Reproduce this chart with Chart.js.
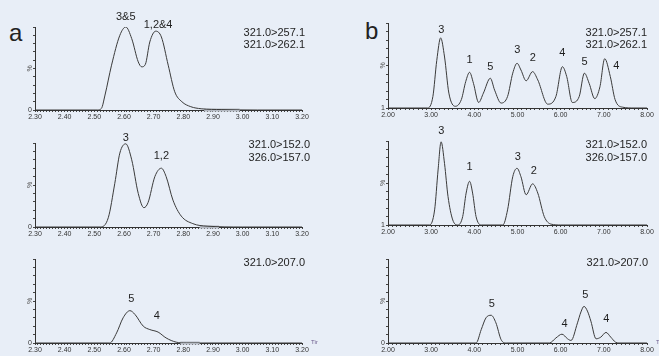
<!DOCTYPE html>
<html>
<head>
<meta charset="utf-8">
<script src="https://cdn.jsdelivr.net/npm/chart.js@4.4.1/dist/chart.umd.min.js"></script>
<style>
html, body { margin: 0; padding: 0; }
body { width: 659px; height: 356px; overflow: hidden; position: relative; background: #e8eef7;
       font-family: "Liberation Sans", Arial, sans-serif; }
canvas { position: absolute; }
.tag { position: absolute; font-size: 24px; line-height: 24px; color: #222; }
</style>
</head>
<body>
<div class="tag" style="left:9px;top:21px">a</div>
<div class="tag" style="left:365px;top:19px">b</div>
<canvas id="a1"></canvas>
<canvas id="a2"></canvas>
<canvas id="a3"></canvas>
<canvas id="b1"></canvas>
<canvas id="b2"></canvas>
<canvas id="b3"></canvas>
<script>
// time axes (min)
const aRange = [2.30, 3.20];
const bRange = [2.00, 8.00];
const aLabels = ['2.30', '2.40', '2.50', '2.60', '2.70', '2.80', '2.90', '3.00', '3.10', '3.20'];
const bLabels = ['2.00', '3.00', '4.00', '5.00', '6.00', '7.00', '8.00'];

// panel a, 321.0>257.1 / 321.0>262.1
const a1Time = [2.30, 2.51, 2.524, 2.536, 2.558, 2.586, 2.606, 2.626, 2.648, 2.660, 2.672, 2.687, 2.707, 2.726, 2.749, 2.771, 2.795, 2.825, 2.86, 2.93, 3.05, 3.20];
const a1Resp = [0, 0, 2, 18, 54, 90, 100, 86, 58, 52, 55, 82, 95, 88, 54, 22, 10, 4, 1.5, 0.5, 0, 0];
// panel a, 321.0>152.0 / 326.0>157.0
const a2Time = [2.30, 2.52, 2.547, 2.569, 2.586, 2.606, 2.626, 2.648, 2.667, 2.681, 2.704, 2.726, 2.742, 2.765, 2.793, 2.832, 2.88, 3.00, 3.20];
const a2Resp = [0, 0, 11, 52, 88, 99, 80, 40, 23, 29, 60, 70, 60, 32, 13, 4, 1, 0, 0];
// panel a, 321.0>207.0
const a3Time = [2.30, 2.552, 2.575, 2.597, 2.62, 2.637, 2.665, 2.687, 2.715, 2.742, 2.776, 2.81, 3.20];
const a3Resp = [0, 0, 12, 30, 38.5, 34, 20, 16, 13, 6, 1, 0, 0];

// panel b, same transitions
const b1Time = [2.00, 2.92, 3.04, 3.13, 3.22, 3.31, 3.41, 3.56, 3.70, 3.80, 3.89, 3.98, 4.10, 4.21, 4.37, 4.47, 4.62, 4.77, 4.89, 4.99, 5.08, 5.20, 5.35, 5.47, 5.70, 5.89, 6.04, 6.14, 6.27, 6.43, 6.55, 6.66, 6.79, 6.91, 7.02, 7.15, 7.26, 7.43, 7.70, 8.00];
const b1Resp = [0, 0, 13.6, 56, 82.5, 60, 17.5, 2, 10, 31, 42, 29, 6.5, 17.5, 35, 21, 5.8, 13.6, 41, 52.6, 44.7, 32, 42.8, 33, 4.5, 13.6, 48.6, 37, 6.5, 13.6, 41, 29, 11, 25, 58, 37, 10, 1, 0, 0];
const b2Time = [2.00, 2.96, 3.08, 3.16, 3.23, 3.31, 3.39, 3.50, 3.62, 3.73, 3.81, 3.89, 3.96, 4.04, 4.16, 4.66, 4.77, 4.89, 4.99, 5.08, 5.20, 5.35, 5.47, 5.62, 5.78, 6.00, 8.00];
const b2Resp = [0, 0, 18, 65.5, 99, 73, 34, 6, 0, 10, 38, 52, 38, 10, 0, 0, 18, 57.5, 67.5, 57.5, 36, 49, 38, 10, 1, 0, 0];
const b3Time = [2.00, 4.04, 4.16, 4.27, 4.39, 4.50, 4.62, 4.74, 5.74, 5.89, 6.03, 6.16, 6.24, 6.39, 6.47, 6.54, 6.62, 6.70, 6.82, 6.93, 7.05, 7.16, 7.27, 7.35, 8.00];
const b3Resp = [0, 0, 16, 30, 33, 24, 4, 0, 0, 6, 10.5, 5, 3, 24, 37, 43.6, 38, 26, 5, 7, 12.6, 7, 1, 0, 0];

// integration baseline segments (start, end)
const a1Band = [2.87, 2.99];
const a2Band = [2.855, 2.92];
const a3Band = [2.79, 2.855];

// peak assignments
const a1Peaks = ['3&5', '1,2&4'];
const a1PeakTime = [2.606, 2.715];
const a2Peaks = ['3', '1,2'];
const a2PeakTime = [2.606, 2.726];
const a3Peaks = ['5', '4'];
const a3PeakTime = [2.625, 2.711];
const b1Peaks = ['3', '1', '5', '3', '2', '4', '5', '4'];
const b1PeakTime = [3.236, 3.891, 4.370, 4.995, 5.356, 6.037, 6.553, 7.287];
const b2Peaks = ['3', '1', '3', '2'];
const b2PeakTime = [3.236, 3.891, 5.009, 5.38];
const b3Peaks = ['5', '4', '5', '4'];
const b3PeakTime = [4.407, 6.09, 6.569, 7.056];

const tickFont = { family: '"Liberation Sans", Arial, sans-serif', size: 7 };
const ink = '#333';

function notesPlugin(p) {
  return {
    id: 'notes',
    afterDatasetsDraw(chart) {
      const { ctx, chartArea: area, scales: { x, y } } = chart;
      ctx.save();
      ctx.fillStyle = '#1e1e1e';
      ctx.font = '11px "Liberation Sans", Arial, sans-serif';
      ctx.textBaseline = 'middle';
      ctx.textAlign = 'center';
      p.peaks.forEach((name, i) => {
        ctx.fillText(name, x.getPixelForValue(p.peakTime[i]), y.getPixelForValue(p.labelAt[i]));
      });
      ctx.textAlign = 'right';
      p.mrm.forEach((s, i) => ctx.fillText(s, area.right + p.mrmDx, area.top + p.mrmDy[i]));
      if (p.time) {
        ctx.font = '6px "Liberation Sans", Arial, sans-serif';
        ctx.fillStyle = '#6b5b8c';
        ctx.textAlign = 'left';
        ctx.textBaseline = 'bottom';
        ctx.fillText('Time', area.right + 9, area.bottom + 2);
      }
      ctx.restore();
    }
  };
}

function drawTrace(id, box, range, labels, step, times, resp, band, base, p) {
  const cv = document.getElementById(id);
  const W = box.r - box.l + 26 + 16;
  const H = box.b - box.t + 24 + 14;
  cv.style.left = (box.l - 26) + 'px';
  cv.style.top = (box.t - 24) + 'px';
  cv.width = W; cv.height = H;
  cv.style.width = W + 'px'; cv.style.height = H + 'px';
  const sets = [{
    data: times.map((t, i) => ({ x: t, y: resp[i] })),
    borderColor: '#3a3a3a',
    borderWidth: 1,
    pointRadius: 0,
    cubicInterpolationMode: 'monotone',
    fill: false,
    order: 1
  }];
  if (band) {
    sets.push({
      data: band.map(t => ({ x: t, y: 0 })),
      borderColor: '#b4b9c2',
      borderWidth: 3,
      pointRadius: 0,
      clip: false,
      fill: false,
      order: 2
    });
  }
  new Chart(cv, {
    type: 'line',
    data: { datasets: sets },
    options: {
      responsive: false,
      animation: false,
      layout: { padding: { left: 17, top: 24, right: 16, bottom: 0 } },
      plugins: { legend: { display: false }, tooltip: { enabled: false } },
      scales: {
        x: {
          type: 'linear', min: range[0], max: range[1],
          afterFit: s => { s.height = 14; s.paddingLeft = 0; s.paddingRight = 0; },
          border: { display: true, color: ink, width: 1 },
          grid: { drawOnChartArea: false, tickLength: 2, tickColor: '#444', tickWidth: 1 },
          ticks: {
            stepSize: step, autoSkip: false, maxRotation: 0, minRotation: 0, padding: 1,
            color: ink, font: tickFont,
            callback: v => { const s = v.toFixed(2); return labels.includes(s) ? s : ''; }
          }
        },
        y: {
          min: 0, max: 100,
          afterFit: s => { s.width = 9; s.paddingTop = 0; s.paddingBottom = 0; },
          border: { display: true, color: ink, width: 1 },
          grid: { drawOnChartArea: false, tickLength: 2, tickColor: '#444', tickWidth: 1 },
          ticks: {
            stepSize: 10, autoSkip: false, padding: 1, color: ink, font: tickFont,
            callback: v => v === 0 ? base : ''
          },
          title: { display: true, text: '%', padding: 0, color: '#555', font: tickFont }
        }
      }
    },
    plugins: [notesPlugin(p)]
  });
}

drawTrace('a1', { l: 35, t: 27, r: 302, b: 110 }, aRange, aLabels, 0.01, a1Time, a1Resp, a1Band, '0',
  { peaks: a1Peaks, peakTime: a1PeakTime, labelAt: [112, 102], mrm: ['321.0>257.1', '321.0>262.1'], mrmDx: 3, mrmDy: [6, 18] });
drawTrace('a2', { l: 35, t: 143, r: 302, b: 227 }, aRange, aLabels, 0.01, a2Time, a2Resp, a2Band, '0',
  { peaks: a2Peaks, peakTime: a2PeakTime, labelAt: [106, 84], mrm: ['321.0>152.0', '326.0>157.0'], mrmDx: 8, mrmDy: [2, 14.5] });
drawTrace('a3', { l: 35, t: 259, r: 302, b: 343 }, aRange, aLabels, 0.01, a3Time, a3Resp, a3Band, '0',
  { peaks: a3Peaks, peakTime: a3PeakTime, labelAt: [52.4, 32.5], mrm: ['321.0>207.0'], mrmDx: 3, mrmDy: [4], time: true });
drawTrace('b1', { l: 388, t: 23, r: 647, b: 108 }, bRange, bLabels, 0.1, b1Time, b1Resp, null, '1',
  { peaks: b1Peaks, peakTime: b1PeakTime, labelAt: [92.3, 56.4, 48.6, 68.2, 58.5, 65, 54.4, 49.4], mrm: ['321.0>257.1', '321.0>262.1'], mrmDx: 0, mrmDy: [9.5, 21.5] });
drawTrace('b2', { l: 388, t: 141, r: 647, b: 225 }, bRange, bLabels, 0.1, b2Time, b2Resp, null, '1',
  { peaks: b2Peaks, peakTime: b2PeakTime, labelAt: [112.3, 68.7, 81.3, 64.3], mrm: ['321.0>152.0', '326.0>157.0'], mrmDx: 0, mrmDy: [4, 16.7] });
drawTrace('b3', { l: 388, t: 259, r: 647, b: 343 }, bRange, bLabels, 0.1, b3Time, b3Resp, null, '0',
  { peaks: b3Peaks, peakTime: b3PeakTime, labelAt: [46.6, 22.5, 57.3, 28.8], mrm: ['321.0>207.0'], mrmDx: 1, mrmDy: [4.3], time: true });
</script>
</body>
</html>
